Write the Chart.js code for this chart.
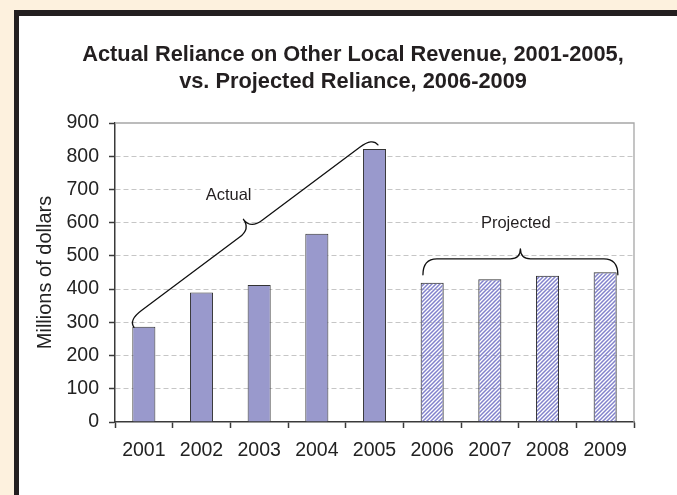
<!DOCTYPE html>
<html>
<head>
<meta charset="utf-8">
<script src="https://cdn.jsdelivr.net/npm/chart.js@4/dist/chart.umd.min.js"></script>
<style>
  html, body { margin: 0; padding: 0; background: #fdf1de; overflow: hidden; }
  canvas { display: block; }
</style>
</head>
<body>
<canvas id="chart" width="677" height="495"></canvas>
<script>
// Categories and values (millions of dollars)
const years = ['2001', '2002', '2003', '2004', '2005', '2006', '2007', '2008', '2009'];
const actualValues = [287, 390, 412, 567, 822, null, null, null, null];
const projectedValues = [null, null, null, null, null, 419, 430, 440, 451];
const yTickValues = [0, 100, 200, 300, 400, 500, 600, 700, 800, 900];
const titleLines = [
  'Actual Reliance on Other Local Revenue, 2001-2005,',
  'vs. Projected Reliance, 2006-2009'
];
const yAxisTitle = 'Millions of dollars';

// Curly-brace callouts, anchored in data space (category index, value)
const braceCallouts = [
  { label: 'Actual', from: [-0.17, 285], to: [4.06, 834], labelAt: [1.47, 667],
    depth: 21, arm: 9, endQ: 16, midQ: 14 },
  { label: 'Projected', from: [4.84, 443], to: [8.22, 443], labelAt: [6.45, 583],
    depth: 26, arm: 16, endQ: 14, midQ: 10 }
];

const FONT = "'Liberation Sans', Arial, Helvetica, sans-serif";
const INK = '#231f20';
const AXIS = '#3a3a3a';

// Diagonal hatch used for projected years
function makeHatch() {
  const pc = document.createElement('canvas');
  pc.width = 4; pc.height = 4;
  const p = pc.getContext('2d');
  p.strokeStyle = '#8282cc';
  p.lineWidth = 1.5;
  p.beginPath();
  p.moveTo(0, 4); p.lineTo(4, 0);
  p.moveTo(-1, 1); p.lineTo(1, -1);
  p.moveTo(3, 5); p.lineTo(5, 3);
  p.stroke();
  return document.getElementById('chart').getContext('2d').createPattern(pc, 'repeat');
}

// Page frame: cream background, black rule top and left, white panel
const framePlugin = {
  id: 'frame',
  beforeDraw(chart) {
    const ctx = chart.ctx;
    ctx.save();
    ctx.fillStyle = '#fdf1de';
    ctx.fillRect(0, 0, chart.width, chart.height);
    ctx.fillStyle = INK;
    ctx.fillRect(14, 10, chart.width - 14, chart.height - 10);
    ctx.fillStyle = '#ffffff';
    ctx.fillRect(19, 16, chart.width - 19, chart.height - 16);
    ctx.restore();
  },
  afterDraw(chart) {
    const ctx = chart.ctx;
    // Title, two centred bold lines
    ctx.save();
    ctx.fillStyle = INK;
    ctx.font = 'bold 21.8px ' + FONT;
    ctx.textAlign = 'center';
    ctx.textBaseline = 'alphabetic';
    ctx.fillText(titleLines[0], 353, 60.7);
    ctx.fillText(titleLines[1], 353, 87.7);
    ctx.restore();
  }
};

// Light grey border on top and right of the plot area
const plotBorderPlugin = {
  id: 'plotBorder',
  beforeDatasetsDraw(chart) {
    const { ctx, chartArea: a } = chart;
    ctx.save();
    ctx.strokeStyle = '#a6a6a6';
    ctx.lineWidth = 1.3;
    ctx.beginPath();
    ctx.moveTo(a.left, a.top);
    ctx.lineTo(a.right, a.top);
    ctx.lineTo(a.right, a.bottom);
    ctx.stroke();
    ctx.restore();
  }
};

function drawBrace(ctx, p0, p1, c) {
  const dx = p1.x - p0.x, dy = p1.y - p0.y;
  const L = Math.hypot(dx, dy);
  const ex = dx / L, ey = dy / L;
  const nx = ey, ny = -ex;
  const P = (u, v) => [p0.x + ex * u + nx * v, p0.y + ey * u + ny * v];
  const m = L / 2;
  ctx.beginPath();
  ctx.moveTo(...P(0, 0));
  ctx.quadraticCurveTo(...P(0, c.arm), ...P(c.endQ, c.arm));
  ctx.lineTo(...P(m - c.midQ, c.arm));
  ctx.quadraticCurveTo(...P(m, c.arm), ...P(m, c.depth));
  ctx.quadraticCurveTo(...P(m, c.arm), ...P(m + c.midQ, c.arm));
  ctx.lineTo(...P(L - c.endQ, c.arm));
  ctx.quadraticCurveTo(...P(L, c.arm), ...P(L, 0));
  ctx.stroke();
}

const calloutPlugin = {
  id: 'callouts',
  afterDatasetsDraw(chart) {
    const { ctx, scales: { x, y } } = chart;
    ctx.save();
    ctx.strokeStyle = '#111';
    ctx.lineWidth = 1.3;
    ctx.lineCap = 'round';
    ctx.lineJoin = 'round';
    braceCallouts.forEach(c => {
      const p0 = { x: x.getPixelForValue(c.from[0]), y: y.getPixelForValue(c.from[1]) };
      const p1 = { x: x.getPixelForValue(c.to[0]), y: y.getPixelForValue(c.to[1]) };
      drawBrace(ctx, p0, p1, c);

      ctx.font = '16.5px ' + FONT;
      const tx = x.getPixelForValue(c.labelAt[0]);
      const ty = y.getPixelForValue(c.labelAt[1]);
      const w = ctx.measureText(c.label).width;
      ctx.fillStyle = '#ffffff';
      ctx.fillRect(tx - w / 2 - 3, ty - 15, w + 6, 21);
      ctx.fillStyle = INK;
      ctx.textAlign = 'center';
      ctx.textBaseline = 'alphabetic';
      ctx.fillText(c.label, tx, ty);
    });
    ctx.restore();
  }
};

const hatch = makeHatch();

new Chart(document.getElementById('chart'), {
  type: 'bar',
  data: {
    labels: years,
    datasets: [
      {
        label: 'Actual',
        data: actualValues,
        backgroundColor: '#9999cc',
        borderColor: '#333333',
        borderWidth: 1,
        grouped: false,
        barPercentage: 0.4,
        categoryPercentage: 1.0
      },
      {
        label: 'Projected',
        data: projectedValues,
        backgroundColor: hatch,
        borderColor: '#333333',
        borderWidth: 1,
        grouped: false,
        barPercentage: 0.4,
        categoryPercentage: 1.0
      }
    ]
  },
  options: {
    responsive: false,
    devicePixelRatio: 1,
    animation: false,
    layout: { padding: { left: 20, right: 43, top: 123, bottom: 20 } },
    plugins: {
      legend: { display: false },
      title: { display: false },
      tooltip: { enabled: false }
    },
    scales: {
      x: {
        grid: {
          offset: true,
          drawOnChartArea: false,
          tickLength: 6,
          tickColor: AXIS,
          tickWidth: 1.5
        },
        border: { color: AXIS, width: 1.5 },
        ticks: {
          color: '#222',
          font: { family: FONT, size: 19.5 },
          padding: 11,
          maxRotation: 0,
          autoSkip: false
        },
        afterFit(scale) { scale.height = 53; }
      },
      y: {
        min: 0,
        max: 900,
        afterBuildTicks(scale) { scale.ticks = yTickValues.map(v => ({ value: v })); },
        grid: {
          color: c => (c.tick && (c.tick.value === 0 || c.tick.value === 900)) ? 'rgba(0,0,0,0)' : '#c6c6c6',
          lineWidth: 1,
          tickLength: 6,
          tickColor: AXIS,
          tickWidth: 1.5
        },
        border: { color: AXIS, width: 1.5, dash: [5, 3] },
        ticks: {
          color: '#222',
          font: { family: FONT, size: 19.5 },
          padding: 10
        },
        title: {
          display: true,
          text: yAxisTitle,
          color: '#222',
          font: { family: FONT, size: 20 },
          padding: { top: 13, bottom: 0 }
        },
        afterFit(scale) { scale.width = 95; }
      }
    }
  },
  plugins: [framePlugin, plotBorderPlugin, calloutPlugin]
});
</script>
</body>
</html>
